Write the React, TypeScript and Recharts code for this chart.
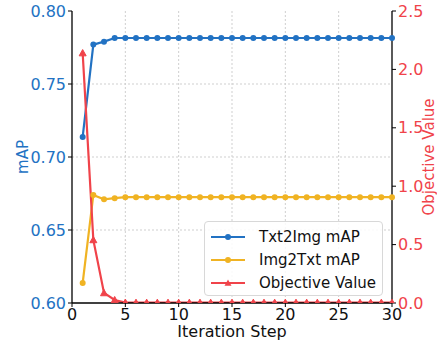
import React from "react";
import { ComposedChart, Line, XAxis, YAxis, CartesianGrid } from "recharts";

const steps = Array.from({ length: 30 }, (_, i) => i + 1);
const txt2img = [0.7137, 0.777, 0.779, 0.7815, 0.7815, 0.7815, 0.7815, 0.7815, 0.7815, 0.7815, 0.7815, 0.7815, 0.7815, 0.7815, 0.7815, 0.7815, 0.7815, 0.7815, 0.7815, 0.7815, 0.7815, 0.7815, 0.7815, 0.7815, 0.7815, 0.7815, 0.7815, 0.7815, 0.7815, 0.7815];
const img2txt = [0.6137, 0.674, 0.671, 0.6718, 0.6725, 0.6725, 0.6725, 0.6725, 0.6725, 0.6725, 0.6725, 0.6725, 0.6725, 0.6725, 0.6725, 0.6725, 0.6725, 0.6725, 0.6725, 0.6725, 0.6725, 0.6725, 0.6725, 0.6725, 0.6725, 0.6725, 0.6725, 0.6725, 0.6725, 0.6725];
const objective = [2.14, 0.54, 0.086, 0.026, 0.004, 0.003, 0.003, 0.003, 0.003, 0.003, 0.003, 0.003, 0.003, 0.003, 0.003, 0.003, 0.003, 0.003, 0.003, 0.003, 0.003, 0.003, 0.003, 0.003, 0.003, 0.003, 0.003, 0.003, 0.003, 0.003];
const xTicks = [0, 5, 10, 15, 20, 25, 30];
const leftTicks = [0.6, 0.65, 0.7, 0.75, 0.8];
const rightTicks = [0, 0.5, 1.0, 1.5, 2.0, 2.5];

const BLUE = "#2272c3";
const ORANGE = "#f0b323";
const RED = "#f0434a";
const FONT = "DejaVu Sans";

const data = steps.map((s, i) => ({ step: s, t2i: txt2img[i], i2t: img2txt[i], obj: objective[i] }));

const Triangle = (props: any) => {
  const { cx, cy } = props;
  if (cx == null || cy == null) return null;
  const r = 3.5;
  return (
    <path
      d={`M${cx},${cy - r} L${cx + r},${cy + r * 0.8} L${cx - r},${cy + r * 0.8} Z`}
      fill={RED}
      stroke={RED}
      strokeWidth={1}
    />
  );
};

const legendItems = [
  { label: "Txt2Img mAP", color: BLUE, tri: false },
  { label: "Img2Txt mAP", color: ORANGE, tri: false },
  { label: "Objective Value", color: RED, tri: true },
];

const LegendBox = () => (
  <div
    style={{
      position: "absolute",
      left: 204,
      top: 221,
      width: 179,
      height: 75,
      border: "1px solid #d8d8d8",
      borderRadius: 4,
      background: "rgba(255,255,255,0.85)",
      boxSizing: "border-box",
      fontFamily: FONT,
      fontSize: 15,
      color: "#111",
      paddingTop: 3,
    }}
  >
    {legendItems.map((it) => (
      <div key={it.label} style={{ display: "flex", alignItems: "center", height: 23 }}>
        <svg width={38} height={12} style={{ marginLeft: 5, marginRight: 11 }}>
          <line x1={1} y1={6} x2={35} y2={6} stroke={it.color} strokeWidth={2.2} />
          {it.tri ? (
            <path d="M18,2.5 L21.5,8.8 L14.5,8.8 Z" fill={it.color} />
          ) : (
            <circle cx={18} cy={6} r={3} fill={it.color} />
          )}
        </svg>
        <span>{it.label}</span>
      </div>
    ))}
  </div>
);

const RightLabel = (props: any) => {
  const vb = props.viewBox || {};
  const cy = (vb.y ?? 0) + (vb.height ?? 0) / 2;
  const x = 429;
  return (
    <text x={x} y={cy} transform={`rotate(-90, ${x}, ${cy})`} textAnchor="middle" dominantBaseline="central" fill={RED} fontSize={15} fontFamily={FONT}>
      Objective Value
    </text>
  );
};

const LeftLabel = (props: any) => {
  const vb = props.viewBox || {};
  const cy = (vb.y ?? 0) + (vb.height ?? 0) / 2;
  const x = 23;
  return (
    <text x={x} y={cy} transform={`rotate(-90, ${x}, ${cy})`} textAnchor="middle" dominantBaseline="central" fill={BLUE} fontSize={15} fontFamily={FONT}>
      mAP
    </text>
  );
};

const BottomLabel = (props: any) => {
  const vb = props.viewBox || {};
  const cx = (vb.x ?? 0) + (vb.width ?? 0) / 2;
  return (
    <text x={cx} y={337} textAnchor="middle" fill="#111" fontSize={16} fontFamily={FONT}>
      Iteration Step
    </text>
  );
};

export default function App() {
  return (
    <div style={{ position: "absolute", left: 0, top: 0, width: 437, height: 342, background: "#fff" }}>
      <ComposedChart width={437} height={342} data={data} margin={{ top: 11, right: 0, left: 0, bottom: 0 }}>
        <CartesianGrid
          xAxisId="x"
          yAxisId="left"
          stroke="#cfcfcf"
          strokeDasharray="2 2"
          verticalValues={[5, 10, 15, 20, 25]}
          horizontalValues={[0.65, 0.7, 0.75]}
        />
        <XAxis
          xAxisId="x"
          dataKey="step"
          type="number"
          domain={[0, 30]}
          ticks={xTicks}
          height={39}
          stroke="#000"
          axisLine={{ stroke: "#000", strokeWidth: 1.3 }}
          tickLine={{ stroke: "#000" }}
          tickSize={4}
          tick={{ fill: "#111", fontSize: 16, fontFamily: FONT }}
          label={<BottomLabel />}
        />
        <XAxis xAxisId="top" orientation="top" type="number" domain={[0, 30]} height={0} tick={false} tickLine={false} axisLine={{ stroke: "#000", strokeWidth: 1.3 }} />
        <YAxis
          yAxisId="left"
          domain={[0.6, 0.8]}
          ticks={leftTicks}
          width={72}
          axisLine={{ stroke: "#000", strokeWidth: 1.3 }}
          tickLine={{ stroke: "#000" }}
          tickSize={4}
          tickFormatter={(v: number) => v.toFixed(2)}
          tick={{ fill: BLUE, fontSize: 16, fontFamily: FONT }}
          label={<LeftLabel />}
          allowDataOverflow
        />
        <YAxis
          yAxisId="right"
          orientation="right"
          domain={[0, 2.5]}
          ticks={rightTicks}
          width={45}
          axisLine={{ stroke: "#000", strokeWidth: 1.3 }}
          tickLine={{ stroke: "#000" }}
          tickSize={4}
          tickFormatter={(v: number) => v.toFixed(1)}
          tick={{ fill: RED, fontSize: 16, fontFamily: FONT }}
          label={<RightLabel />}
          allowDataOverflow
        />
        <Line xAxisId="x" yAxisId="left" dataKey="t2i" stroke={BLUE} strokeWidth={2.2} dot={{ r: 3, fill: BLUE, stroke: BLUE, strokeWidth: 0 }} isAnimationActive={false} />
        <Line xAxisId="x" yAxisId="left" dataKey="i2t" stroke={ORANGE} strokeWidth={2.2} dot={{ r: 3, fill: ORANGE, stroke: ORANGE, strokeWidth: 0 }} isAnimationActive={false} />
        <Line xAxisId="x" yAxisId="right" dataKey="obj" stroke={RED} strokeWidth={2.2} dot={<Triangle />} isAnimationActive={false} />
      </ComposedChart>
      <LegendBox />
    </div>
  );
}
